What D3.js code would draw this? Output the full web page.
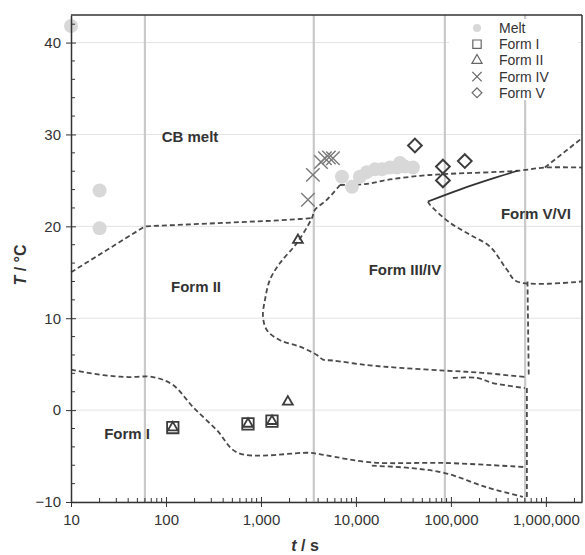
<!DOCTYPE html>
<html>
<head>
<meta charset="utf-8">
<script src="https://cdn.jsdelivr.net/npm/d3@7"></script>
<style>
  html, body { margin: 0; padding: 0; background: #fff; }
  svg { display: block; font-family: "Liberation Sans", Arial, sans-serif; }
</style>
</head>
<body>
<svg id="chart" width="585" height="555"></svg>
<script>
// Time (s) / temperature (°C) transformation diagram of cocoa butter polymorphs

const xTicks = [10, 100, 1000, 10000, 100000, 1000000];
const yTicks = [-10, 0, 10, 20, 30, 40];
// reference times: 1 min, 1 h, 1 day, 1 week
const timeMarks = [60, 3600, 86400, 604800];

// observed points [t (s), T (°C)]
const meltPts = [[10, 41.8], [20, 23.9], [20, 19.8], [7125, 25.4], [9080, 24.3], [11000, 25.4],
  [13060, 25.9], [15850, 26.2], [18800, 26.2], [22800, 26.4], [27000, 26.4], [29050, 26.9],
  [32800, 26.5], [39800, 26.4]];
const formIPts = [[118, -1.9], [730, -1.5], [1306, -1.2]];
const formIIPts = [[118, -1.9], [730, -1.5], [1306, -1.2], [1920, 0.9], [2450, 18.5]];
const formIVPts = [[3125, 22.9], [3525, 25.6], [4285, 27.0], [4720, 27.4], [5200, 27.5], [5730, 27.4]];
const formVPts = [[41800, 28.8], [82400, 26.5], [82400, 25.0], [140000, 27.1]];

// phase boundaries [t (s), T (°C)]
const meltIIBoundary = [[10, 15.0], [60, 20.0], [166, 20.2], [1245, 20.6], [2570, 20.8], [3443, 20.9]];
const formIIIBoundary = [[6790, 24.5], [4955, 22.9], [3700, 21.8], [3443, 20.9], [2393, 18.2],
  [1585, 16.0], [1245, 14.2], [1102, 12.0], [1050, 10.2], [1156, 8.7], [1585, 7.6], [2570, 6.9],
  [3882, 6.0], [4496, 5.5], [5730, 5.4], [13060, 4.9], [29050, 4.6], [86500, 4.3],
  [217000, 4.05], [601000, 3.6]];
const meltUpperBoundary = [[6790, 24.5], [12450, 24.6], [22800, 25.1], [47200, 25.5],
  [90800, 25.7], [507000, 26.05], [975000, 26.4], [2400000, 26.4]];
const meltRise = [[975000, 26.4], [2400000, 29.6]];
const formVVIBoundary = [[57300, 22.7], [60100, 22.35], [97500, 20.4], [158000, 19.1],
  [257000, 17.8], [388000, 15.3], [495000, 14.0], [2400000, 14.0]];
const formVVISolid = [[57300, 22.7], [124000, 24.0], [257000, 25.1], [507000, 26.05]];
const weekUpper = [[640000, 14.0], [660000, 3.6]];
const formIIIInner = [[105000, 3.5], [188000, 3.5], [277000, 2.95], [601000, 2.4]];
const weekLower = [[631000, 2.4], [631000, -9.5]];
const formIBoundary = [[10, 4.4], [22, 3.8], [40, 3.6], [73, 3.6], [118, 2.75], [192, 0.35],
  [344, -2.2], [573, -4.65], [3280, -4.65], [4720, -4.9], [14700, -5.7], [86500, -5.75],
  [601000, -6.2]];
const formILower = [[14700, -6.05], [37000, -6.3], [86500, -6.85], [239000, -8.4], [573000, -9.45]];

const regionLabels = ["CB melt", "Form II", "Form III/IV", "Form V/VI", "Form I"];
const regionAt = [[179, 29.2], [207, 12.8], [32800, 14.7], [785000, 20.8], [39, -3.15]];

const legendNames = ["Melt", "Form I", "Form II", "Form IV", "Form V"];

const W = 585, H = 555;
const m = { left: 71, right: 3, top: 15, bottom: 53 };
const svg = d3.select("#chart");

const x = d3.scaleLog().domain([10, 2400000]).range([m.left, W - m.right]);
const y = d3.scaleLinear().domain([-10, 43]).range([H - m.bottom, m.top]);

const g = svg.append("g");

// horizontal grid
g.append("g").selectAll("line").data(yTicks).join("line")
  .attr("x1", x.range()[0]).attr("x2", x.range()[1])
  .attr("y1", d => y(d)).attr("y2", d => y(d))
  .attr("stroke", "#e3e3e3").attr("stroke-width", 1);

// vertical time markers
g.append("g").selectAll("line").data(timeMarks).join("line")
  .attr("x1", d => x(d)).attr("x2", d => x(d))
  .attr("y1", y.range()[1]).attr("y2", y.range()[0])
  .attr("stroke", "#c9c9c9").attr("stroke-width", 2.2);

// boundaries
const line = d3.line().x(d => x(d[0])).y(d => y(d[1]));
const smooth = d3.line().x(d => x(d[0])).y(d => y(d[1])).curve(d3.curveCatmullRom.alpha(0.5));
const dashed = [
  [meltIIBoundary, line], [formIIIBoundary, smooth], [meltUpperBoundary, smooth], [meltRise, line],
  [formVVIBoundary, smooth], [weekUpper, line], [formIIIInner, smooth], [weekLower, line],
  [formIBoundary, smooth], [formILower, smooth]
];
const bl = g.append("g").attr("fill", "none");
dashed.forEach(([pts, gen]) => {
  bl.append("path").attr("d", gen(pts))
    .attr("stroke", "#4a4a4a").attr("stroke-width", 1.8).attr("stroke-dasharray", "5,3");
});
bl.append("path").attr("d", smooth(formVVISolid))
  .attr("stroke", "#333").attr("stroke-width", 1.8);

// markers
const pts = g.append("g");
pts.selectAll("circle.melt").data(meltPts).join("circle")
  .attr("class", "melt").attr("cx", d => x(d[0])).attr("cy", d => y(d[1])).attr("r", 7)
  .attr("fill", "#d8d8d8");

const sym = (type, size) => d3.symbol().type(type).size(size)();
function drawMarks(data, type, size, stroke, sw) {
  pts.append("g").selectAll("path").data(data).join("path")
    .attr("transform", d => `translate(${x(d[0])},${y(d[1])})`)
    .attr("d", sym(type, size))
    .attr("fill", "none").attr("stroke", stroke).attr("stroke-width", sw);
}
drawMarks(formIVPts, d3.symbolTimes, 120, "#7a7a7a", 1.4);
drawMarks(formIPts, d3.symbolSquare, 130, "#3c3c3c", 1.8);
drawMarks(formIIPts, d3.symbolTriangle, 42, "#3c3c3c", 1.8);
drawMarks(formVPts, d3.symbolDiamond2, 120, "#3c3c3c", 2);

// region labels
g.append("g").selectAll("text").data(regionLabels).join("text")
  .attr("x", (d, i) => x(regionAt[i][0])).attr("y", (d, i) => y(regionAt[i][1]))
  .attr("text-anchor", "middle")
  .attr("font-size", 15).attr("font-weight", "bold").attr("fill", "#333")
  .text(d => d);

// axes
const yAxis = g.append("g").attr("transform", `translate(${m.left},0)`);
yAxis.call(d3.axisLeft(y).tickValues(yTicks).tickSize(5).tickSizeOuter(0).tickPadding(5));
yAxis.select(".domain").attr("stroke", "#333").attr("stroke-width", 1.5);
yAxis.selectAll(".tick line").attr("stroke", "#333").attr("x2", 5).attr("x1", -5);
yAxis.selectAll("text").attr("font-size", 15).attr("fill", "#333").attr("font-family", "Liberation Sans, Arial, sans-serif");
const yMinor = d3.range(-10, 43, 2).filter(v => v % 10 !== 0);
yAxis.append("g").selectAll("line").data(yMinor).join("line")
  .attr("x1", 0).attr("x2", 4).attr("y1", d => y(d)).attr("y2", d => y(d))
  .attr("stroke", "#333");

const xAxis = g.append("g").attr("transform", `translate(0,${H - m.bottom})`);
xAxis.call(d3.axisBottom(x).tickValues(xTicks).tickFormat(d3.format(",")).tickSize(5).tickSizeOuter(0).tickPadding(7));
xAxis.select(".domain").attr("stroke", "#333").attr("stroke-width", 1.5);
xAxis.selectAll(".tick line").attr("stroke", "#333").attr("y1", -5).attr("y2", 5);
xAxis.selectAll("text").attr("font-size", 15).attr("fill", "#333").attr("font-family", "Liberation Sans, Arial, sans-serif");
const xMinor = [];
for (let e = 1; e <= 6; e++) for (let k = 2; k <= 9; k++) { const v = k * Math.pow(10, e); if (v < 2400000) xMinor.push(v); }
xAxis.append("g").selectAll("line").data(xMinor).join("line")
  .attr("x1", d => x(d)).attr("x2", d => x(d)).attr("y1", 0).attr("y2", -4)
  .attr("stroke", "#333");

// frame top/right
g.append("line").attr("x1", m.left).attr("x2", W - m.right).attr("y1", m.top).attr("y2", m.top)
  .attr("stroke", "#333").attr("stroke-width", 1.5);
g.append("line").attr("x1", W - m.right).attr("x2", W - m.right).attr("y1", m.top).attr("y2", H - m.bottom)
  .attr("stroke", "#333").attr("stroke-width", 1.5);

// axis titles
svg.append("text").attr("transform", `translate(26,265) rotate(-90)`)
  .attr("text-anchor", "middle").attr("font-size", 16).attr("font-weight", "bold").attr("fill", "#333")
  .html('<tspan font-style="italic">T</tspan> / °C');
svg.append("text").attr("x", 305).attr("y", 551)
  .attr("text-anchor", "middle").attr("font-size", 16).attr("font-weight", "bold").attr("fill", "#333")
  .html('<tspan font-style="italic">t</tspan> / s');

// legend
const lg = svg.append("g");
lg.append("rect").attr("x", 449).attr("y", 19).attr("width", 129).attr("height", 81).attr("fill", "#fff");
const lgTypes = [null, d3.symbolSquare, d3.symbolTriangle, d3.symbolTimes, d3.symbolDiamond2];
legendNames.forEach((name, i) => {
  const cy = 28 + i * 16.2;
  if (i === 0) {
    lg.append("circle").attr("cx", 477).attr("cy", cy).attr("r", 4).attr("fill", "#d8d8d8");
  } else {
    lg.append("path").attr("transform", `translate(477,${cy})`)
      .attr("d", sym(lgTypes[i], [0, 70, 45, 60, 60][i]))
      .attr("fill", "none").attr("stroke", "#666").attr("stroke-width", 1.2);
  }
  lg.append("text").attr("x", 499).attr("y", cy + 5).attr("font-size", 14).attr("fill", "#333").text(name);
});
</script>
</body>
</html>
